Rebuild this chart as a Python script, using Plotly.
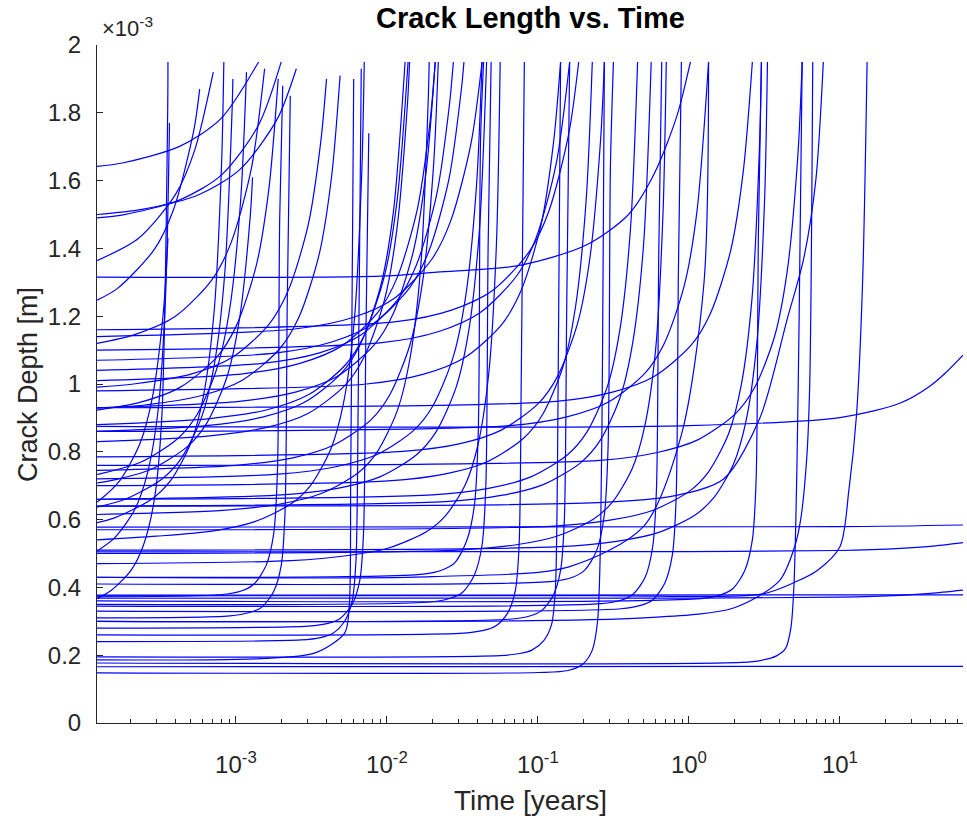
import plotly.graph_objects as go

# Each curve: list of (log10(time in years), crack depth in units of 1e-3 m)
early_curves = [
    [(-3.92,0.367),(-3.829,0.39),(-3.695,0.45),(-3.612,0.525),(-3.540,0.66),(-3.491,0.90),(-3.452,1.80),(-3.45,1.95)],
    [(-3.92,0.652),(-3.895,0.66),(-3.769,0.715),(-3.635,0.825),(-3.552,0.963),(-3.481,1.21),(-3.45,1.43)],
    [(-3.92,0.507),(-3.804,0.546),(-3.670,0.63),(-3.587,0.735),(-3.515,0.924),(-3.466,1.26),(-3.44,1.77)],
    [(-3.92,1.247),(-3.784,1.282),(-3.539,1.398),(-3.413,1.515),(-3.279,1.748),(-3.24,1.87)],
    [(-3.92,1.364),(-3.644,1.43),(-3.399,1.56),(-3.273,1.69),(-3.15,1.92)],
    [(-3.92,1.642),(-3.752,1.652),(-3.373,1.701),(-3.101,1.782),(-2.85,1.95)],
    [(-3.92,1.50),(-3.622,1.515),(-3.243,1.559),(-2.971,1.634),(-2.726,1.782),(-2.60,1.93)],
    [(-3.92,1.49),(-3.746,1.499),(-3.367,1.544),(-3.095,1.617),(-2.850,1.764),(-2.70,1.95)],
    [(-3.92,0.591),(-3.804,0.605),(-3.559,0.66),(-3.433,0.715),(-3.299,0.825),(-3.216,0.963),(-3.145,1.21),(-3.095,1.65),(-3.08,1.95)],
    [(-3.92,0.637),(-3.734,0.66),(-3.489,0.72),(-3.363,0.78),(-3.229,0.90),(-3.146,1.05),(-3.075,1.32),(-3.026,1.80),(-3.02,1.90)],
    [(-3.92,0.733),(-3.900,0.735),(-3.628,0.77),(-3.383,0.84),(-3.257,0.91),(-3.123,1.05),(-3.040,1.225),(-2.969,1.54),(-2.93,1.92)],
    [(-3.92,0.708),(-3.837,0.714),(-3.565,0.748),(-3.320,0.816),(-3.194,0.884),(-3.060,1.02),(-2.977,1.19),(-2.905,1.496),(-2.89,1.61)],
    [(-3.92,1.12),(-3.675,1.145),(-3.403,1.199),(-3.158,1.308),(-3.032,1.417),(-2.898,1.635),(-2.81,1.93)],
    [(-3.92,0.923),(-3.642,0.945),(-3.370,0.99),(-3.125,1.08),(-2.999,1.17),(-2.865,1.35),(-2.782,1.575),(-2.72,1.90)],
    [(-3.92,0.372),(-3.09,0.379),(-2.96,0.39),(-2.88,0.41),(-2.80,0.465),(-2.75,0.558),(-2.725,0.744),(-2.71,1.49),(-2.69,1.88)],
    [(-3.92,0.31),(-3.04,0.316),(-2.91,0.326),(-2.83,0.341),(-2.75,0.388),(-2.70,0.465),(-2.675,0.62),(-2.66,1.24),(-2.64,1.85)],
    [(-3.92,0.991),(-3.677,1.0),(-3.298,1.029),(-3.026,1.078),(-2.781,1.176),(-2.655,1.274),(-2.521,1.47),(-2.438,1.715),(-2.40,1.90)],
    [(-3.92,0.929),(-3.606,0.938),(-3.227,0.966),(-2.955,1.012),(-2.710,1.104),(-2.584,1.196),(-2.450,1.38),(-2.367,1.61),(-2.31,1.91)],
    [(-3.92,0.186),(-2.84,0.19),(-2.48,0.206),(-2.28,0.265),(-2.25,0.34),(-2.24,0.72),(-2.23,1.3),(-2.22,1.9)],
    [(-3.92,0.24),(-2.57,0.245),(-2.44,0.252),(-2.36,0.264),(-2.28,0.30),(-2.23,0.36),(-2.205,0.48),(-2.19,0.96),(-2.17,1.93)],
    [(-3.92,0.28),(-2.52,0.286),(-2.39,0.294),(-2.31,0.308),(-2.23,0.35),(-2.18,0.42),(-2.155,0.56),(-2.14,1.12),(-2.12,1.74)],
    [(-3.92,0.54),(-3.526,0.551),(-3.147,0.567),(-2.875,0.594),(-2.630,0.648),(-2.504,0.702),(-2.370,0.81),(-2.287,0.945),(-2.216,1.188),(-2.167,1.62),(-2.15,1.95)],
    [(-3.92,0.745),(-3.002,0.760),(-2.623,0.782),(-2.351,0.820),(-2.106,0.894),(-1.980,0.969),(-1.846,1.118),(-1.763,1.304),(-1.692,1.639),(-1.66,1.95)],
]

middle_curves = [
    [(-3.92,0.86),(-3.197,0.877),(-2.818,0.903),(-2.546,0.946),(-2.301,1.032),(-2.175,1.118),(-2.041,1.29),(-1.958,1.505),(-1.88,1.95)],
    [(-3.92,0.88),(-3.172,0.898),(-2.793,0.924),(-2.521,0.968),(-2.276,1.056),(-2.150,1.144),(-2.016,1.32),(-1.933,1.54),(-1.86,1.95)],
    [(-3.92,0.83),(-3.174,0.847),(-2.795,0.872),(-2.523,0.913),(-2.278,0.996),(-2.152,1.079),(-2.018,1.245),(-1.935,1.453),(-1.864,1.826),(-1.85,1.95)],
    [(-3.92,0.615),(-3.086,0.627),(-2.707,0.646),(-2.435,0.677),(-2.190,0.738),(-2.064,0.80),(-1.930,0.923),(-1.847,1.076),(-1.775,1.353),(-1.726,1.845),(-1.72,1.95)],
    [(-3.92,1.01),(-2.955,1.03),(-2.576,1.061),(-2.304,1.111),(-2.059,1.212),(-1.933,1.313),(-1.799,1.515),(-1.716,1.768),(-1.68,1.95)],
    [(-3.92,0.93),(-2.979,0.949),(-2.600,0.977),(-2.328,1.023),(-2.083,1.116),(-1.957,1.209),(-1.823,1.395),(-1.740,1.628),(-1.68,1.95)],
    [(-3.92,1.04),(-2.826,1.061),(-2.447,1.092),(-2.175,1.144),(-1.930,1.248),(-1.804,1.352),(-1.670,1.56),(-1.587,1.82),(-1.56,1.95)],
    [(-3.92,1.07),(-2.745,1.091),(-2.366,1.124),(-2.094,1.177),(-1.849,1.284),(-1.723,1.391),(-1.589,1.605),(-1.506,1.873),(-1.49,1.95)],
    [(-3.92,0.72),(-2.717,0.734),(-2.338,0.756),(-2.066,0.792),(-1.821,0.864),(-1.695,0.936),(-1.561,1.08),(-1.478,1.26),(-1.407,1.584),(-1.37,1.95)],
    [(-3.92,0.66),(-2.698,0.673),(-2.319,0.693),(-2.047,0.726),(-1.802,0.792),(-1.676,0.858),(-1.542,0.99),(-1.459,1.155),(-1.388,1.452),(-1.34,1.95)],
    [(-3.92,0.43),(-1.76,0.439),(-1.63,0.452),(-1.55,0.473),(-1.47,0.54),(-1.42,0.645),(-1.395,0.86),(-1.38,1.72),(-1.36,1.95)],
    [(-3.92,0.35),(-1.71,0.357),(-1.58,0.368),(-1.50,0.385),(-1.42,0.4375),(-1.37,0.525),(-1.345,0.70),(-1.33,1.40),(-1.31,1.95)],
    [(-3.92,0.47),(-2.635,0.479),(-2.256,0.494),(-1.984,0.517),(-1.739,0.564),(-1.613,0.611),(-1.479,0.705),(-1.396,0.823),(-1.325,1.034),(-1.275,1.41),(-1.25,1.95)],
    [(-3.92,0.26),(-1.49,0.265),(-1.36,0.273),(-1.28,0.286),(-1.20,0.325),(-1.15,0.39),(-1.125,0.52),(-1.11,1.04),(-1.09,1.95)],
    [(-3.92,0.195),(-1.25,0.199),(-1.12,0.205),(-1.04,0.215),(-0.96,0.244),(-0.91,0.29),(-0.885,0.39),(-0.87,0.78),(-0.85,1.95)],
    [(-3.92,0.30),(-1.19,0.306),(-1.06,0.315),(-0.98,0.33),(-0.90,0.375),(-0.85,0.45),(-0.825,0.60),(-0.81,1.20),(-0.79,1.95)],
    [(-3.92,1.16),(-1.951,1.183),(-1.572,1.218),(-1.300,1.276),(-1.055,1.392),(-0.929,1.508),(-0.795,1.74),(-0.73,1.95)],
    [(-3.92,0.70),(-1.991,0.714),(-1.612,0.735),(-1.340,0.77),(-1.095,0.84),(-0.969,0.91),(-0.835,1.05),(-0.752,1.225),(-0.681,1.54),(-0.64,1.95)],
    [(-3.92,0.148),(-1.0,0.149),(-0.80,0.155),(-0.70,0.175),(-0.64,0.215),(-0.605,0.30),(-0.585,0.55),(-0.572,1.1),(-0.56,1.95)],
    [(-3.92,0.41),(-0.90,0.418),(-0.77,0.43),(-0.69,0.451),(-0.61,0.51),(-0.56,0.615),(-0.535,0.82),(-0.52,1.64),(-0.50,1.95)],
    [(-3.92,0.66),(-1.698,0.673),(-1.319,0.693),(-1.047,0.726),(-0.802,0.792),(-0.676,0.858),(-0.542,0.99),(-0.459,1.155),(-0.388,1.452),(-0.34,1.95)],
    [(-3.92,0.64),(-1.612,0.653),(-1.233,0.672),(-0.961,0.704),(-0.716,0.768),(-0.590,0.832),(-0.456,0.96),(-0.373,1.12),(-0.301,1.408),(-0.25,1.95)],
    [(-3.92,0.345),(-0.58,0.352),(-0.45,0.362),(-0.37,0.38),(-0.29,0.43),(-0.24,0.52),(-0.215,0.69),(-0.20,1.38),(-0.18,1.95)],
    [(-3.92,0.50),(-1.532,0.51),(-1.153,0.525),(-0.881,0.55),(-0.636,0.60),(-0.510,0.65),(-0.376,0.75),(-0.293,0.875),(-0.221,1.10),(-0.172,1.50),(-0.15,1.95)],
    [(-3.92,1.315),(-2.05,1.318),(-1.67,1.33),(-1.12,1.35),(-0.68,1.41),(-0.40,1.50),(-0.23,1.62),(-0.08,1.79),(0.01,1.95)],
    [(-3.92,0.785),(-1.894,0.801),(-1.515,0.824),(-1.243,0.864),(-0.998,0.942),(-0.872,1.021),(-0.738,1.178),(-0.655,1.374),(-0.584,1.727),(-0.56,1.95)],
    [(-3.92,0.98),(-2.135,1.0),(-1.756,1.029),(-1.484,1.078),(-1.239,1.176),(-1.113,1.274),(-0.979,1.47),(-0.896,1.715),(-0.85,1.95)],
    [(-3.92,1.10),(-2.035,1.122),(-1.656,1.155),(-1.384,1.21),(-1.139,1.32),(-1.013,1.43),(-0.879,1.65),(-0.79,1.95)],
    [(-3.92,1.14),(-2.599,1.163),(-2.220,1.197),(-1.948,1.254),(-1.703,1.368),(-1.577,1.482),(-1.443,1.71),(-1.37,1.95)],
]

late_curves = [
    [(-3.92,0.33),(-0.45,0.337),(-0.32,0.347),(-0.24,0.363),(-0.16,0.4125),(-0.11,0.495),(-0.085,0.66),(-0.07,1.32),(-0.05,1.95)],
    [(-3.92,0.86),(-1.187,0.877),(-0.808,0.903),(-0.536,0.946),(-0.291,1.032),(-0.165,1.118),(-0.031,1.29),(0.052,1.505),(0.13,1.95)],
    [(-3.92,0.93),(-0.879,0.949),(-0.500,0.977),(-0.228,1.023),(0.017,1.116),(0.143,1.209),(0.277,1.395),(0.360,1.628),(0.42,1.95)],
    [(-3.92,0.57),(-0.892,0.581),(-0.513,0.599),(-0.241,0.627),(0.004,0.684),(0.130,0.741),(0.264,0.855),(0.347,0.998),(0.418,1.254),(0.468,1.71),(0.48,1.95)],
    [(-3.92,0.36),(0.08,0.367),(0.21,0.378),(0.29,0.396),(0.37,0.45),(0.42,0.54),(0.445,0.72),(0.46,1.44),(0.48,1.95)],
    [(-3.92,0.51),(-0.860,0.52),(-0.481,0.536),(-0.209,0.561),(0.036,0.612),(0.162,0.663),(0.296,0.765),(0.379,0.893),(0.450,1.122),(0.500,1.53),(0.52,1.95)],
    [(-3.92,0.177),(0.35,0.179),(0.48,0.185),(0.58,0.198),(0.64,0.22),(0.675,0.28),(0.695,0.40),(0.715,0.75),(0.73,1.2),(0.75,1.95)],
    [(-3.92,0.76),(-0.589,0.775),(-0.210,0.798),(0.062,0.836),(0.307,0.912),(0.433,0.988),(0.567,1.14),(0.650,1.33),(0.721,1.672),(0.75,1.95)],
    [(-3.92,0.30),(-0.30,0.31),(0.30,0.34),(0.60,0.42),(0.70,0.52),(0.74,0.60),(0.78,0.78),(0.80,1.0),(0.82,1.95)],
    [(-3.92,0.64),(-0.60,0.65),(-0.10,0.67),(0.23,0.72),(0.47,0.90),(0.65,1.19),(0.76,1.37),(0.84,1.6),(0.89,1.95)],
    [(-3.92,0.375),(-0.59,0.376),(0.48,0.38),(0.70,0.415),(0.85,0.45),(1.00,0.52),(1.06,0.69),(1.11,0.91),(1.15,1.3),(1.18,1.95)],
    [(-3.92,0.43),(-1.70,0.432),(-0.80,0.46),(-0.30,0.58),(-0.05,0.85),(0.10,1.3),(0.13,1.95)],
]

long_curves = [
    [(-3.92,0.166),(1.815,0.167)],
    [(-3.92,0.377),(1.815,0.378)],
    [(-3.92,0.368),(0.0,0.3683),(1.0,0.3714),(1.4,0.3767),(1.6,0.3823),(1.815,0.392)],
    [(-3.92,0.505),(0.0,0.5054),(1.0,0.5089),(1.4,0.515),(1.6,0.521),(1.815,0.532)],
    [(-3.92,0.578),(1.0,0.579),(1.815,0.584)],
    [(-3.92,0.875),(0.0,0.8775),(1.0,0.901),(1.4,0.944),(1.6,0.995),(1.7,1.033),(1.815,1.085)],
]

x_tick_vals = [1e-3, 1e-2, 1e-1, 1, 10]
x_tick_text = ["10<sup>-3</sup>", "10<sup>-2</sup>", "10<sup>-1</sup>", "10<sup>0</sup>", "10<sup>1</sup>"]
y_tick_vals = [0, 0.2, 0.4, 0.6, 0.8, 1.0, 1.2, 1.4, 1.6, 1.8, 2.0]
y_tick_text = ["0", "0.2", "0.4", "0.6", "0.8", "1", "1.2", "1.4", "1.6", "1.8", "2"]

AX = "#262626"
FONT = "Liberation Sans, Arial, Helvetica, sans-serif"

fig = go.Figure()
for group in (early_curves, middle_curves, late_curves, long_curves):
    for curve in group:
        fig.add_trace(go.Scatter(
            x=[10 ** p[0] for p in curve],
            y=[p[1] for p in curve],
            mode="lines",
            line=dict(color="rgb(0,0,255)", width=1.2, shape="spline", smoothing=0.8),
            hoverinfo="skip",
            showlegend=False,
        ))

minor_vals = [k * 10.0 ** e for e in range(-4, 2) for k in range(2, 10)]

fig.update_layout(
    width=967, height=825,
    margin=dict(l=97, r=4, t=45, b=102),
    paper_bgcolor="white", plot_bgcolor="white",
    font=dict(family=FONT, color=AX, size=24),
    showlegend=False,
    xaxis=dict(
        type="log", range=[-3.92, 1.815],
        tickvals=x_tick_vals, ticktext=x_tick_text,
        ticks="inside", ticklen=7, tickcolor=AX, tickwidth=1,
        showline=True, linecolor=AX, linewidth=1, mirror=False,
        showgrid=False, zeroline=False,
        ticklabelstandoff=20,
        tickfont=dict(size=24, color=AX, family=FONT),
        minor=dict(tickvals=minor_vals, ticks="inside", ticklen=4, tickcolor=AX, showgrid=False),
    ),
    yaxis=dict(
        range=[0, 2],
        tickvals=y_tick_vals, ticktext=y_tick_text,
        ticks="inside", ticklen=6, tickcolor=AX, tickwidth=1,
        showline=True, linecolor=AX, linewidth=1, mirror=False,
        showgrid=False, zeroline=False,
        ticklabelstandoff=10,
        tickfont=dict(size=24, color=AX, family=FONT),
    ),
    annotations=[
        dict(text="<b>Crack Length vs. Time</b>", xref="paper", yref="paper", x=0.5, y=1.0398,
             xanchor="center", yanchor="middle", showarrow=False, font=dict(size=29, color="black", family=FONT)),
        dict(text="Time [years]", xref="paper", yref="paper", x=0.5, y=-0.1136,
             xanchor="center", yanchor="middle", showarrow=False, font=dict(size=28, color=AX, family=FONT)),
        dict(text="Crack Depth [m]", xref="paper", yref="paper", x=-0.0797, y=0.5, textangle=-90,
             xanchor="center", yanchor="middle", showarrow=False, font=dict(size=27, color=AX, family=FONT)),
        dict(text="\u00d710<sup>-3</sup>", xref="paper", yref="paper", x=0.003, y=1.026,
             xanchor="left", yanchor="middle", showarrow=False, font=dict(size=22, color=AX, family=FONT)),
    ],
)

fig.write_html("out.html")
